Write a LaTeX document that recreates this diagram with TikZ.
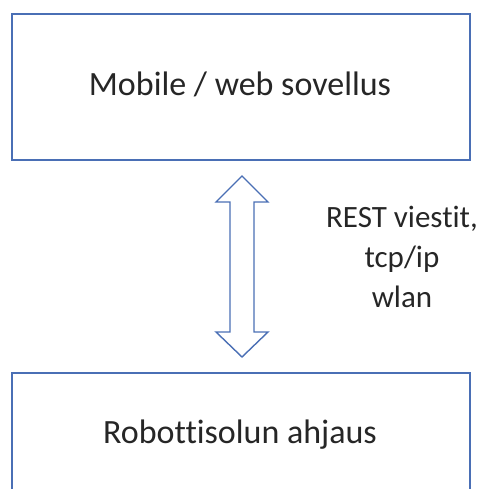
\documentclass[tikz,border=0pt]{standalone}
\usepackage{fontspec}
\setmainfont{Carlito}[Ligatures=NoCommon]
\definecolor{boxblue}{HTML}{4A6FB5}
\definecolor{ink}{HTML}{262626}
\tikzset{
  block/.style={draw=boxblue, line width=1.6pt, fill=white},
  title/.style={text=ink, font=\fontsize{34}{40}\selectfont, anchor=base, inner sep=0pt},
  label/.style={text=ink, font=\fontsize{31}{40}\selectfont, align=center},
  dblarrow/.style={draw=boxblue, line width=1.4pt, fill=white, line join=miter}
}
\begin{document}
\begin{tikzpicture}[x=1pt, y=-1pt]
  \useasboundingbox (0,0) rectangle (487,489);
  \begin{scope}
    \clip (0,0) rectangle (487,489);
    % upper block
    \draw[block] (12,14) rectangle (470,160);
    \node[title] (app) at (240,96) {Mobile / web sovellus};
    % lower block, runs off the bottom edge
    \draw[block] (12,373) rectangle (470,520);
    \node[title] (ctrl) at (240,443) {Robottisolun ahjaus};
  \end{scope}
  % two-headed arrow between the blocks
  \coordinate (top) at (242,176);
  \coordinate (bot) at (242,357);
  \draw[dblarrow] (top) -- (268,202) -- (254,202) -- (254,332) -- (268,332)
    -- (bot) -- (216,332) -- (230,332) -- (230,202) -- (216,202) -- cycle;
  \node[label] (proto) at (402,257) {REST viestit,\\tcp/ip\\wlan};
\end{tikzpicture}
\end{document}
